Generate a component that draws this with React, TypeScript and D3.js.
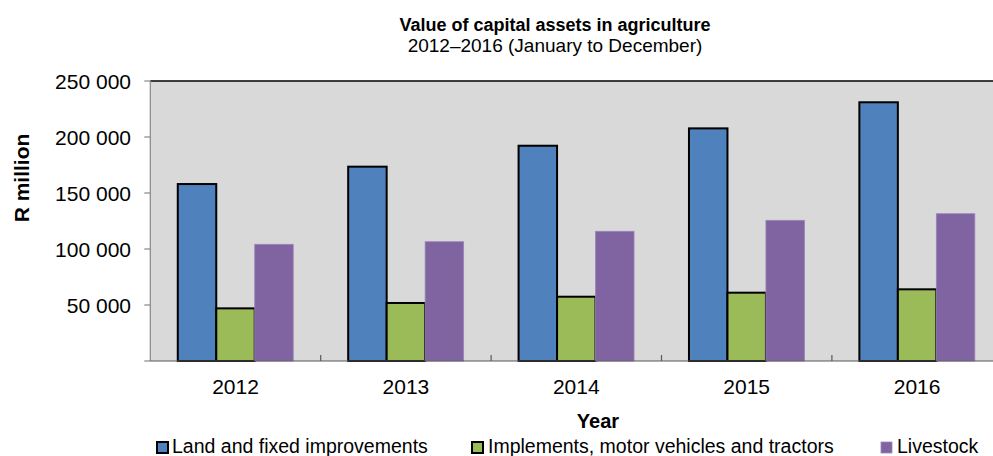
import React from "react";
import * as d3 from "d3";

const years = ["2012", "2013", "2014", "2015", "2016"];
const seriesNames = ["Land and fixed improvements", "Implements, motor vehicles and tractors", "Livestock"];
const landValues = [158000, 173500, 192200, 207700, 231000];
const implementValues = [47000, 51800, 57400, 61000, 64000];
const livestockValues = [104200, 106500, 115800, 125600, 131500];
const yTicks = [50000, 100000, 150000, 200000, 250000];
const colors = ["#4F81BD", "#9BBB59", "#8064A2"];
const strokes = ["#000", "#000", "#9a84b8"];

const W = 993;
const H = 456;
const left = 150.3;
const right = 1002.3;
const top = 81;
const bottom = 361;

export default function App() {
  const allSeries = [landValues, implementValues, livestockValues];
  const x0 = d3.scaleBand<string>().domain(years).range([left, right]).padding(0);
  const x1 = d3
    .scaleBand<string>()
    .domain(seriesNames)
    .range([0, x0.bandwidth()])
    .paddingInner(0)
    .paddingOuter(0.714);
  const y = d3.scaleLinear().domain([0, 250000]).range([bottom, top]);
  const fmt = (v: number) => d3.format(",")(v).replace(/,/g, " ");
  const font = "Liberation Sans, Arial, sans-serif";

  const legendItems = [
    { sx: 157, tx: 172 },
    { sx: 472, tx: 488 },
    { sx: 881, tx: 897 },
  ];

  return (
    <svg
      width={W}
      height={H}
      style={{ position: "absolute", left: 0, top: 0, background: "#fff" }}
      fontFamily={font}
    >
      <rect x={left} y={top} width={right - left} height={bottom - top} fill="#D9D9D9" />
      <line x1={left} x2={right} y1={top} y2={top} stroke="#000" strokeWidth={1.5} />
      {/* y axis */}
      <line x1={left} x2={left} y1={top} y2={bottom} stroke="#868686" strokeWidth={1.2} />
      {[0, ...yTicks].map((t) => (
        <line key={"yt" + t} x1={left - 6} x2={left} y1={y(t)} y2={y(t)} stroke="#868686" strokeWidth={1.2} />
      ))}
      {yTicks.map((t) => (
        <text key={"yl" + t} x={131} y={y(t) + 7.5} textAnchor="end" fontSize={21} fill="#000">
          {fmt(t)}
        </text>
      ))}
      {/* bars */}
      {years.map((yr, i) => (
        <g key={yr}>
          {seriesNames.map((s, j) => {
            const v = allSeries[j][i];
            return (
              <rect
                key={s}
                x={(x0(yr) as number) + (x1(s) as number)}
                y={y(v)}
                width={x1.bandwidth()}
                height={bottom - y(v)}
                fill={colors[j]}
                stroke={strokes[j]}
                strokeWidth={j === 2 ? 0.8 : 2}
              />
            );
          })}
        </g>
      ))}
      {/* x axis */}
      <line x1={left} x2={right} y1={bottom} y2={bottom} stroke="#595959" strokeWidth={1.2} />
      {years.map((yr, i) =>
        i === 0 ? null : (
          <line
            key={"xt" + yr}
            x1={x0(yr) as number}
            x2={x0(yr) as number}
            y1={bottom}
            y2={bottom - 6}
            stroke="#595959"
            strokeWidth={1.2}
          />
        )
      )}
      {years.map((yr) => (
        <text
          key={"xl" + yr}
          x={(x0(yr) as number) + x0.bandwidth() / 2}
          y={394}
          textAnchor="middle"
          fontSize={21}
          fill="#000"
        >
          {yr}
        </text>
      ))}
      {/* titles */}
      <text x={555} y={31} textAnchor="middle" fontSize={18} fontWeight="bold" fill="#000">
        Value of capital assets in agriculture
      </text>
      <text x={555} y={52} textAnchor="middle" fontSize={19} fill="#000">
        2012–2016 (January to December)
      </text>
      <text x={598} y={428} textAnchor="middle" fontSize={20} fontWeight="bold" fill="#000">
        Year
      </text>
      <text
        transform={`translate(28.5,178) rotate(-90)`}
        textAnchor="middle"
        fontSize={21}
        fontWeight="bold"
        fill="#000"
      >
        R million
      </text>
      {/* legend */}
      {seriesNames.map((s, j) => (
        <g key={"lg" + s}>
          <rect
            x={legendItems[j].sx}
            y={442}
            width={11}
            height={11}
            fill={colors[j]}
            stroke={j === 2 ? "#9a84b8" : "#000"}
            strokeWidth={j === 2 ? 0.8 : 2}
          />
          <text x={legendItems[j].tx} y={453} fontSize={19.5} fill="#000">
            {s}
          </text>
        </g>
      ))}
    </svg>
  );
}
